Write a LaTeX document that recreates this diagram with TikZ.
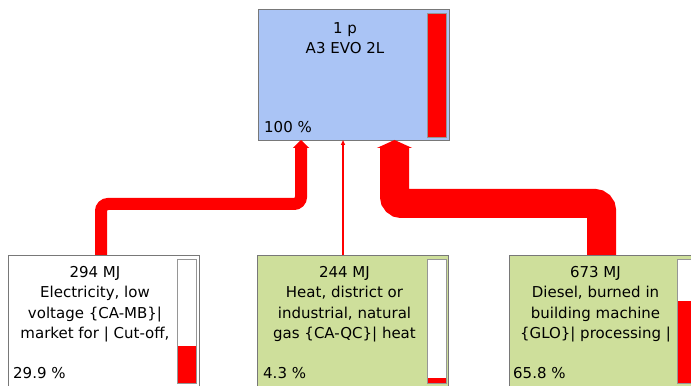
\documentclass[tikz,border=0pt]{standalone}
\usepackage{fontspec}
\setmainfont{DejaVu Sans}
\usepackage{tikz}
\usetikzlibrary{arrows.meta}
\definecolor{prodblue}{RGB}{170,196,245}
\definecolor{procgreen}{RGB}{206,223,155}
\definecolor{flowred}{RGB}{255,0,0}
\definecolor{boxedge}{RGB}{120,120,120}
\definecolor{baredge}{RGB}{150,150,150}
\newcommand{\scorebar}[2]{\fill[white] #1 rectangle ++(1.9,12.4); \fill[flowred] #1 rectangle ++(1.9,{0.124*#2}); \draw[baredge,line width=0.8pt] #1 rectangle ++(1.9,12.4);}
\tikzset{
  procbox/.style={draw=boxedge,line width=1pt,minimum width=191pt,minimum height=131pt,anchor=north west,inner sep=0pt},
  boxtext/.style={font=\fontsize{15}{20.5}\selectfont,align=center,anchor=north,inner sep=0pt},
  sharetext/.style={font=\fontsize{15}{18}\selectfont,anchor=base west,inner sep=0pt},
  flow/.style={draw=flowred,rounded corners=7pt}
}

\begin{document}
\begin{tikzpicture}[scale=0.35146]
\useasboundingbox (0,0) rectangle (69.1,38.6);
% process boxes
\node[procbox,fill=prodblue] (prod) at (25.8,37.7) {};
\node[procbox,fill=white] (elec) at (0.8,13.1) {};
\node[procbox,fill=procgreen] (heat) at (25.7,13.1) {};
\node[procbox,fill=procgreen] (dies) at (50.9,13.1) {};
\scorebar{(42.7,24.9)}{100}
\scorebar{(17.7,0.3)}{29.9}
\scorebar{(42.7,0.3)}{4.3}
\scorebar{(67.7,0.3)}{65.8}
% labels
\node[boxtext] (prodtxt) at (34.5,36.4) {1 p\\A3 EVO 2L};
\node[boxtext] (electxt) at (9.5,12.0) {294 MJ\\Electricity, low\\voltage \{CA-MB\}|\\market for | Cut-off,};
\node[boxtext] (heattxt) at (34.45,12.0) {244 MJ\\Heat, district or\\industrial, natural\\gas \{CA-QC\}| heat};
\node[boxtext] (diestxt) at (59.55,12.0) {673 MJ\\Diesel, burned in\\building machine\\\{GLO\}| processing |};
\node[sharetext] (prodpct) at (26.4,25.3) {100 \%};
\node[sharetext] (elecpct) at (1.3,0.7) {29.9 \%};
\node[sharetext] (heatpct) at (26.3,0.7) {4.3 \%};
\node[sharetext] (diespct) at (51.3,0.7) {65.8 \%};
% flows
\coordinate (elecout) at (10.1,13.1);
\coordinate (elecbend) at (30.1,18.2);
\coordinate (elecin) at (30.1,24.6);
\coordinate (heatout) at (34.3,13.1);
\coordinate (heatin) at (34.3,24.6);
\coordinate (diesout) at (60.15,13.1);
\coordinate (diesbend) at (39.45,18.25);
\coordinate (diesin) at (39.45,24.6);
\draw[flow,line width=12pt,-{Triangle[width=16pt,length=8pt]}] (elecout) |- (elecbend) -- (elecin);
\draw[flow,line width=1.3pt,-{Triangle[width=4pt,length=5pt]}] (heatout) -- (heatin);
\draw[flow,line width=29pt,-{Triangle[width=35pt,length=8pt]}] (diesout) |- (diesbend) -- (diesin);
\end{tikzpicture}
\end{document}
